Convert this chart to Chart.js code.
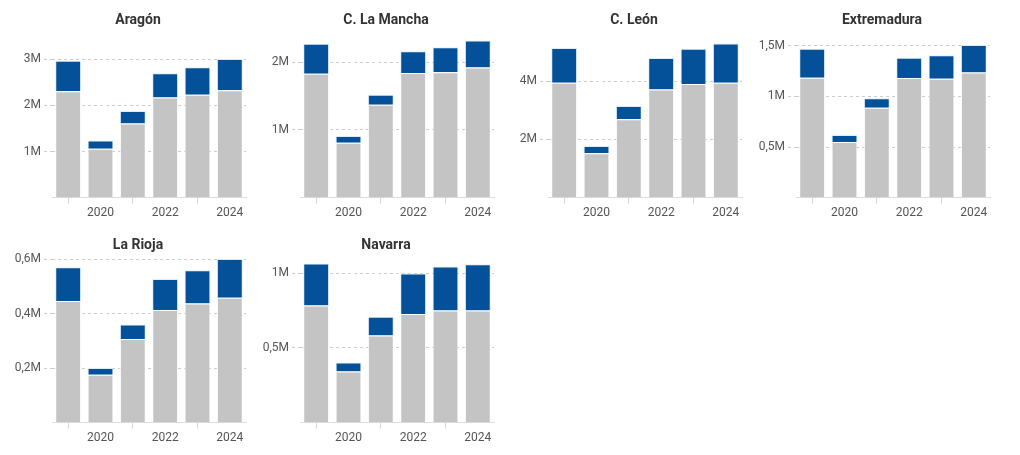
<!DOCTYPE html>
<html lang="es">
  <head>
    <meta charset="UTF-8" />
    <title>Regiones</title>
    <style>
      body {
        margin: 0;
        background-color: #ffffff;
        font-family: Roboto, sans-serif;
      }
      .panel {
        position: absolute;
        width: 248px;
        height: 224px;
      }
    </style>
    <script src="https://cdn.jsdelivr.net/npm/chart.js"></script>
  </head>
  <body>
    <div class="panel" style="left:14px; top:0px;"><canvas id="c0"></canvas></div>
    <div class="panel" style="left:262px; top:0px;"><canvas id="c1"></canvas></div>
    <div class="panel" style="left:510px; top:0px;"><canvas id="c2"></canvas></div>
    <div class="panel" style="left:758px; top:0px;"><canvas id="c3"></canvas></div>
    <div class="panel" style="left:14px; top:225px;"><canvas id="c4"></canvas></div>
    <div class="panel" style="left:262px; top:225px;"><canvas id="c5"></canvas></div>

    <script>
      // años (eje x)
      const years = ['2019', '2020', '2021', '2022', '2023', '2024'];

      // nombres de los paneles
      const regions = ['Aragón', 'C. La Mancha', 'C. León', 'Extremadura', 'La Rioja', 'Navarra'];

      // parte gris (millones)
      const greyAragon   = [2.31, 1.06, 1.61, 2.17, 2.23, 2.33];
      const greyMancha   = [1.83, 0.81, 1.37, 1.84, 1.85, 1.92];
      const greyLeon     = [3.94, 1.52, 2.69, 3.71, 3.90, 3.94];
      const greyExtrem   = [1.185, 0.551, 0.888, 1.182, 1.175, 1.238];
      const greyRioja    = [0.446, 0.176, 0.307, 0.413, 0.437, 0.458];
      const greyNavarra  = [0.784, 0.343, 0.583, 0.728, 0.750, 0.750];

      // parte azul (millones)
      const blueAragon   = [0.66, 0.18, 0.27, 0.53, 0.60, 0.68];
      const blueMancha   = [0.44, 0.10, 0.15, 0.32, 0.37, 0.40];
      const blueLeon     = [1.19, 0.25, 0.45, 1.08, 1.21, 1.35];
      const blueExtrem   = [0.287, 0.069, 0.095, 0.201, 0.234, 0.270];
      const blueRioja    = [0.124, 0.024, 0.053, 0.114, 0.122, 0.142];
      const blueNavarra  = [0.282, 0.060, 0.126, 0.270, 0.295, 0.311];

      // límites y pasos del eje y
      const yMax  = [3.555, 2.418, 5.62, 1.62, 0.601, 1.097];
      const yStep = [1, 1, 2, 0.5, 0.2, 0.5];

      const greySeries = [greyAragon, greyMancha, greyLeon, greyExtrem, greyRioja, greyNavarra];
      const blueSeries = [blueAragon, blueMancha, blueLeon, blueExtrem, blueRioja, blueNavarra];

      const tickFont = { family: 'Roboto', size: 12 };

      function fmt(v) {
        return String(Math.round(v * 10) / 10).replace('.', ',') + 'M';
      }

      function makeChart(i) {
        const step = yStep[i];
        const max = yMax[i];

        new Chart(document.getElementById('c' + i), {
          type: 'bar',
          data: {
            labels: years,
            datasets: [
              {
                data: greySeries[i],
                backgroundColor: '#c4c4c4',
                borderColor: 'rgba(255,255,255,0.8)',
                borderWidth: 1
              },
              {
                data: blueSeries[i],
                backgroundColor: '#04519a',
                borderColor: 'rgba(220,235,250,0.9)',
                borderWidth: 1
              }
            ]
          },
          options: {
            responsive: true,
            maintainAspectRatio: false,
            animation: false,
            datasets: {
              bar: { categoryPercentage: 1, barPercentage: 0.8 }
            },
            layout: { padding: { left: 0, right: 0, top: 0, bottom: 2 } },
            plugins: {
              legend: { display: false },
              tooltip: { enabled: false },
              title: {
                display: true,
                text: regions[i],
                color: '#333333',
                font: { family: 'Roboto', size: 14, weight: 'bold' },
                padding: { top: 12, bottom: 5 }
              }
            },
            scales: {
              x: {
                stacked: true,
                grid: {
                  drawOnChartArea: false,
                  offset: false,
                  tickLength: 6,
                  tickColor: (ctx) => (ctx.index % 2 === 0 ? '#d6d6d6' : 'transparent')
                },
                border: { color: '#dddddd' },
                ticks: {
                  autoSkip: false,
                  maxRotation: 0,
                  padding: 2,
                  color: '#555555',
                  font: tickFont,
                  callback: (v, idx) => (idx % 2 === 1 ? years[idx] : '')
                }
              },
              y: {
                stacked: true,
                min: 0,
                max: max,
                afterBuildTicks: (scale) => {
                  const t = [];
                  for (let v = step; v <= max + 1e-9; v += step) {
                    t.push({ value: Math.round(v * 1000) / 1000 });
                  }
                  scale.ticks = t;
                },
                afterFit: (scale) => {
                  scale.width = 38;
                },
                grid: {
                  color: '#cccccc',
                  tickLength: 8,
                  tickColor: '#cccccc',
                  tickBorderDash: [3, 3]
                },
                border: { display: false, dash: [3, 3] },
                ticks: {
                  padding: 3,
                  color: '#555555',
                  font: tickFont,
                  callback: (v) => fmt(v)
                }
              },
              // hueco a la derecha para que el título quede centrado en el panel
              yRight: {
                type: 'linear',
                position: 'right',
                grid: { display: false },
                border: { display: false },
                ticks: { display: false },
                afterFit: (scale) => {
                  scale.width = 16;
                }
              }
            }
          }
        });
      }

      for (let i = 0; i < regions.length; i++) {
        makeChart(i);
      }
    </script>
  </body>
</html>
